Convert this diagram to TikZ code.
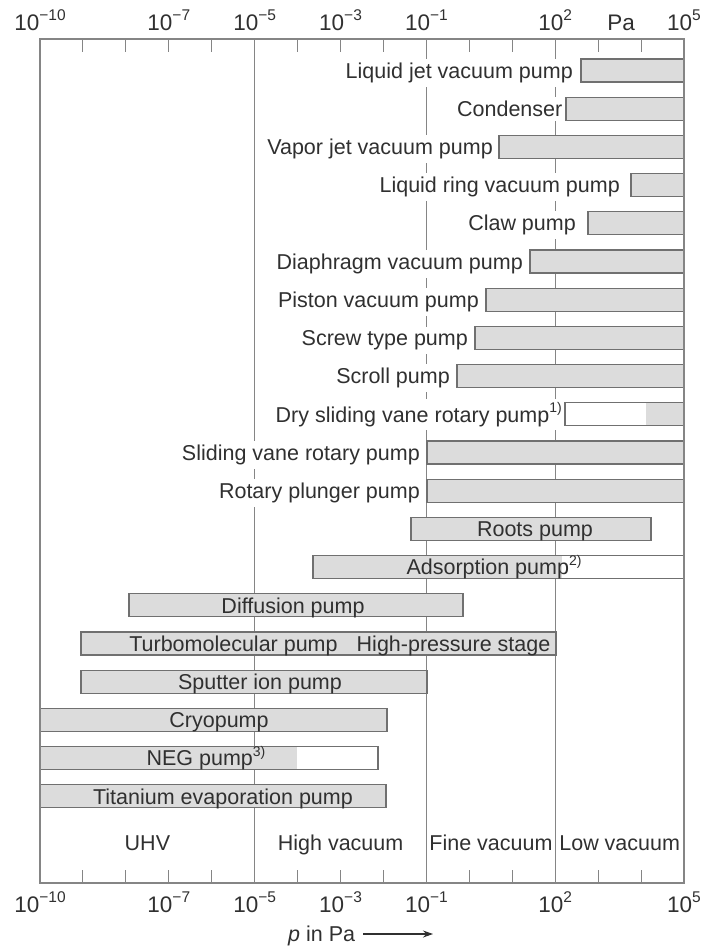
\documentclass[tikz,border=0pt]{standalone}
\usepackage{fontspec}
\setmainfont{Liberation Sans}
\usetikzlibrary{arrows.meta}
\definecolor{txt}{HTML}{303030}
\definecolor{ln}{HTML}{858585}
\definecolor{barfill}{HTML}{DCDCDC}
\definecolor{barline}{HTML}{707070}
\newcommand\supx[1]{\raisebox{0.42em}{\fontsize{14}{14}\selectfont #1}}
\newcommand\supa[1]{\raisebox{0.45em}{\fontsize{15.5}{16}\selectfont #1}}
\newcommand\pw[1]{10\supa{#1}}
\begin{document}
\begin{tikzpicture}[x=1pt,y=-1pt,
  lbl/.style={font=\fontsize{21.5}{24}\selectfont, text=txt, inner sep=0pt},
  axlbl/.style={font=\fontsize{22.5}{24}\selectfont, text=txt, inner sep=0pt, anchor=base},
  rowlbl/.style={lbl, anchor=base east, fill=white, inner xsep=1pt, inner ysep=4pt},
  inlbl/.style={lbl, anchor=base},
  bar/.style={draw=barline, fill=barfill, line width=1.1pt},
  wbar/.style={draw=barline, fill=white, line width=1.1pt},
  gridln/.style={draw=ln, line width=1.1pt},
  tickln/.style={draw=ln, line width=1.1pt},
  frameln/.style={draw=ln, line width=1.3pt},
]
\useasboundingbox (0,0) rectangle (704,949);
% grid lines
\coordinate (g1t) at (254.7,39); \coordinate (g1b) at (254.7,883);
\coordinate (g2t) at (426.6,39); \coordinate (g2b) at (426.6,883);
\coordinate (g3t) at (555.4,39); \coordinate (g3b) at (555.4,883);
\draw[gridln] (g1t) -- (g1b);
\draw[gridln] (g2t) -- (g2b);
\draw[gridln] (g3t) -- (g3b);
% ticks
\foreach \k in {-9,-8,-7,-6,-4,-3,-2,0,1,3,4}{
  \pgfmathsetmacro\xx{40+(\k+10)*42.9333}
  \draw[tickln] (\xx,39) -- (\xx,52);
  \draw[tickln] (\xx,870) -- (\xx,883);
}
% bars rows 0-11
\draw[bar] (581,59) rectangle (684,82);
\draw[bar] (566,97.2) rectangle (684,120.2);
\draw[bar] (499,135.4) rectangle (684,158.4);
\draw[bar] (631,173.6) rectangle (684,196.6);
\draw[bar] (588,211.8) rectangle (684,234.8);
\draw[bar] (530,250) rectangle (684,273);
\draw[bar] (486,288.2) rectangle (684,311.2);
\draw[bar] (475,326.4) rectangle (684,349.4);
\draw[bar] (457,364.6) rectangle (684,387.6);
\fill[white] (565,402.8) rectangle (684,425.8);
\fill[barfill] (646,402.8) rectangle (684,425.8);
\draw[draw=barline, line width=1.1pt] (565,402.8) rectangle (684,425.8);
\draw[bar] (427,441) rectangle (684,464);
\draw[bar] (427,479.2) rectangle (684,502.2);
% labels rows 0-11
\node[rowlbl] (l0) at (574,78.2) {Liquid jet vacuum pump};
\node[rowlbl] (l1) at (563.5,116.4) {Condenser};
\node[rowlbl] (l2) at (494,154.6) {Vapor jet vacuum pump};
\node[rowlbl] (l3) at (621,192.8) {Liquid ring vacuum pump};
\node[rowlbl] (l4) at (577,231) {Claw pump};
\node[rowlbl] (l5) at (524,269.2) {Diaphragm vacuum pump};
\node[rowlbl] (l6) at (480,307.4) {Piston vacuum pump};
\node[rowlbl] (l7) at (469,345.6) {Screw type pump};
\node[rowlbl] (l8) at (451,383.8) {Scroll pump};
\node[rowlbl] (l9) at (563,422) {Dry sliding vane rotary pump\supx{1)}};
\node[rowlbl] (l10) at (421,460.2) {Sliding vane rotary pump};
\node[rowlbl] (l11) at (421,498.4) {Rotary plunger pump};
% rows 12-19
\draw[bar] (411,517.4) rectangle (651,540.4);
\node[inlbl] (l12) at (535,536.6) {Roots pump};
\fill[white] (313,555.6) rectangle (684,578.6);
\fill[barfill] (313,555.6) rectangle (562,578.6);
\draw[draw=barline, line width=1.1pt] (313,555.6) rectangle (684,578.6);
\node[inlbl] (l13) at (494,574.8) {Adsorption pump\supx{2)}};
\draw[bar] (129,593.8) rectangle (463,616.8);
\node[inlbl] (l14) at (293,613) {Diffusion pump};
\draw[bar] (81,632) rectangle (556,655);
\node[inlbl] (l15a) at (233.5,651.2) {Turbomolecular pump};
\node[inlbl] (l15b) at (453.5,651.2) {High-pressure stage};
\draw[bar] (81,670.2) rectangle (427,693.2);
\node[inlbl] (l16) at (260,689.4) {Sputter ion pump};
\draw[bar] (40,708.4) rectangle (387,731.4);
\node[inlbl] (l17) at (219,727.6) {Cryopump};
\fill[white] (40,746.6) rectangle (378,769.6);
\fill[barfill] (40,746.6) rectangle (297,769.6);
\draw[draw=barline, line width=1.1pt] (40,746.6) rectangle (378,769.6);
\node[inlbl] (l18) at (206,765.8) {NEG pump\supx{3)}};
\draw[bar] (40,784.8) rectangle (386,807.8);
\node[inlbl] (l19) at (223,804) {Titanium evaporation pump};
% regions
\node[inlbl] (r1) at (147.4,850.5) {UHV};
\node[inlbl] (r2) at (340.6,850.5) {High vacuum};
\node[inlbl] (r3) at (491,850.5) {Fine vacuum};
\node[inlbl] (r4) at (619.7,850.5) {Low vacuum};
% frame
\draw[frameln] (40,39) rectangle (684,883);
% axis labels
\foreach \k/\e in {-10/−10,-7/−7,-5/−5,-3/−3,-1/−1,2/2,5/5}{
  \pgfmathsetmacro\xx{40+(\k+10)*42.9333}
  \node[axlbl] (top\k) at (\xx,31) {\pw{\e}};
  \node[axlbl] (bot\k) at (\xx,912.5) {\pw{\e}};
}
\node[axlbl] (pa) at (621,31) {Pa};
\node[lbl, anchor=base west] (pinpa) at (288,941) {\textit{p} in Pa};
\coordinate (arrs) at (363,934);
\coordinate (arre) at (433,934);
\draw[txt, line width=1.1pt, -{Stealth[length=10pt,width=7pt]}] (arrs) -- (arre);
\end{tikzpicture}
\end{document}
